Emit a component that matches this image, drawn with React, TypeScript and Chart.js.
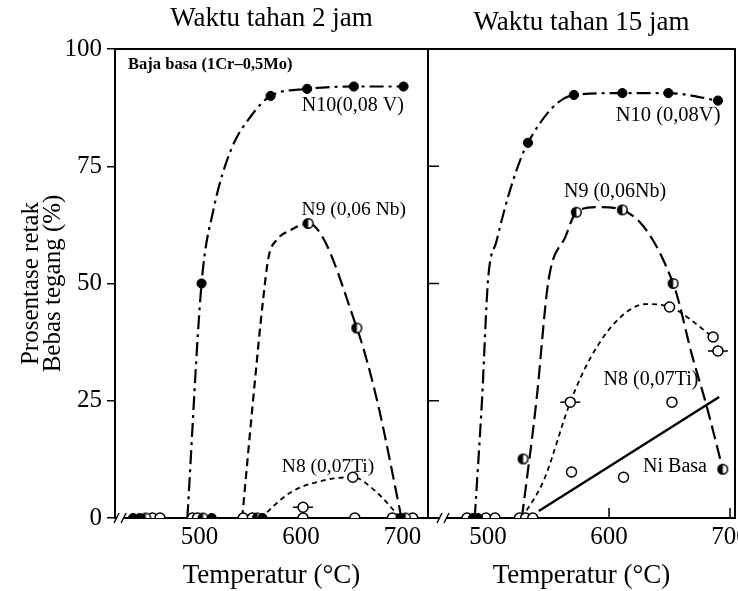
import React, { useEffect, useRef } from 'react';
import { Chart, registerables } from 'chart.js';
Chart.register(...registerables);

const FONT = "'Liberation Serif', 'Times New Roman', serif";
const INK = '#000';

// ---------- axes ----------
const Y_TICKS = [0, 25, 50, 75, 100];
const X_TICKS = [500, 600, 700];
const P1_X_RANGE = [416.7, 725.1];
const P2_X_RANGE = [450.4, 704.1];
const P1_TITLE = 'Waktu tahan 2 jam';
const P2_TITLE = 'Waktu tahan 15 jam';
const X_TITLE = 'Temperatur (°C)';
const Y_TITLE = ['Prosentase retak', 'Bebas tegang (%)'];
const P1_BREAK_T = [421.7];
const P2_BREAK_T = [462.8];

// ---------- panel 1 (2 jam) curves ----------
const P1_N10_T = [488, 502, 514, 531, 550, 570, 606, 652, 701];
const P1_N10_V = [0, 50, 66, 78.5, 85.5, 90, 91.5, 92, 92];
const P1_N9_T = [542, 552.7, 562.6, 568, 576, 590, 607, 655, 675, 699];
const P1_N9_V = [0, 25, 46.5, 55.6, 59.3, 61.4, 62.8, 40.5, 25, 0];
const P1_N8_T = [560, 590, 622, 651, 673, 698];
const P1_N8_V = [0, 5.5, 8, 8.7, 5.8, 0];

// ---------- panel 1 markers ----------
const P1_FILLED_T = [502, 570, 606, 652, 701, 434.5, 441, 512, 562, 698];
const P1_FILLED_V = [50, 90, 91.5, 92, 92, 0, 0, 0, 0, 0];
const P1_HALF_T = [607, 655, 447, 503.5, 557, 703];
const P1_HALF_V = [62.8, 40.5, 0, 0, 0, 0];
const P1_OPEN_T = [651, 602, 453.5, 461, 493, 498, 543, 552, 602, 653, 690, 710];
const P1_OPEN_V = [8.7, 2.3, 0, 0, 0, 0, 0, 0, 0, 0, 0, 0];
const P1_CROSS_T = [602];
const P1_CROSS_V = [2.3];

// ---------- panel 2 (15 jam) curves ----------
const P2_N10_T = [489, 495, 500, 507, 520, 533, 571, 611, 649, 690];
const P2_N10_V = [0, 25, 50.7, 59, 71.4, 80, 90.2, 90.6, 90.6, 89];
const P2_N9_T = [528, 540, 550, 564, 573, 590, 611, 653, 669, 680, 694];
const P2_N9_V = [0, 25, 50.7, 60, 65.2, 66.3, 65.7, 50, 34.3, 24.5, 10.4];
const P2_N8_T = [528, 546, 568, 585, 607, 630, 650, 686];
const P2_N8_V = [0, 8, 24.7, 34.3, 42.2, 45.6, 45, 38.6];
const P2_NI_T = [542, 691];
const P2_NI_V = [1.5, 25.8];

// ---------- panel 2 markers ----------
const P2_FILLED_T = [533, 571, 611, 649, 690, 487.6, 491.7];
const P2_FILLED_V = [80, 90.2, 90.6, 90.6, 89, 0, 0];
const P2_HALF_T = [529, 573, 611, 653, 694];
const P2_HALF_V = [12.6, 65.2, 65.7, 50, 10.4];
const P2_OPEN_T = [568, 650, 686, 690, 569, 652, 612, 482.6, 498.3, 505.8, 526, 531, 537];
const P2_OPEN_V = [24.7, 45, 38.6, 35.6, 9.8, 24.7, 8.7, 0, 0, 0, 0, 0, 0];
const P2_CROSS_T = [568, 690];
const P2_CROSS_V = [24.7, 35.6];

// ---------- annotations ----------
const P1_LABEL_TEXT = ['Baja basa (1Cr–0,5Mo)', 'N10(0,08 V)', 'N9 (0,06 Nb)', 'N8 (0,07Ti)'];
const P1_LABEL_T = [429.6, 651, 652, 626.6];
const P1_LABEL_V = [96.6, 88, 65.7, 10.9];
const P2_LABEL_TEXT = ['N10 (0,08V)', 'N9 (0,06Nb)', 'N8 (0,07Ti)', 'Ni Basa'];
const P2_LABEL_T = [648.8, 605, 634.7, 654.5];
const P2_LABEL_V = [85.9, 69.5, 29.4, 10.9];

function pts(t: number[], v: number[]) {
  return t.map((x, i) => ({ x, y: v[i] }));
}

function makeHalf(): HTMLCanvasElement {
  const c = document.createElement('canvas');
  c.width = 13;
  c.height = 13;
  const g = c.getContext('2d')!;
  g.beginPath();
  g.arc(6.5, 6.5, 4.8, 0, Math.PI * 2);
  g.fillStyle = '#fff';
  g.fill();
  g.beginPath();
  g.moveTo(6.5, 6.5);
  g.arc(6.5, 6.5, 4.8, Math.PI / 2, Math.PI * 1.5);
  g.closePath();
  g.fillStyle = INK;
  g.fill();
  g.beginPath();
  g.arc(6.5, 6.5, 4.8, 0, Math.PI * 2);
  g.lineWidth = 1.5;
  g.strokeStyle = INK;
  g.stroke();
  return c;
}

const framePlugin = {
  id: 'frame',
  beforeDatasetsDraw(chart: any) {
    const { ctx, chartArea } = chart;
    const { left, top, right, bottom } = chartArea;
    ctx.save();
    ctx.strokeStyle = INK;
    ctx.lineWidth = 2;
    ctx.strokeRect(left, top, right - left, bottom - top);
    const opts = chart.options.plugins.frame || {};
    const xs = chart.scales.x;
    const ys = chart.scales.y;
    (opts.breaks || []).forEach((t: number) => {
      const px = xs.getPixelForValue(t);
      const py = ys.getPixelForValue(0);
      ctx.fillStyle = '#fff';
      ctx.fillRect(px - 3, py - 2, 6, 4);
      ctx.lineWidth = 1.4;
      ctx.beginPath();
      ctx.moveTo(px - 6, py + 5);
      ctx.lineTo(px - 1, py - 5);
      ctx.moveTo(px + 1, py + 5);
      ctx.lineTo(px + 6, py - 5);
      ctx.stroke();
    });
    if (opts.innerTicks) {
      ctx.lineWidth = 1.5;
      ctx.beginPath();
      opts.innerTicks.x.forEach((t: number) => {
        const px = xs.getPixelForValue(t);
        ctx.moveTo(px, bottom);
        ctx.lineTo(px, bottom - 10);
      });
      opts.innerTicks.y.forEach((v: number) => {
        const py = ys.getPixelForValue(v);
        ctx.moveTo(left, py);
        ctx.lineTo(left + 11, py);
      });
      ctx.stroke();
    }
    ctx.restore();
  },
};

const labelPlugin = {
  id: 'labels',
  afterDatasetsDraw(chart: any) {
    const opts = chart.options.plugins.labels;
    if (!opts) return;
    const { ctx } = chart;
    const xs = chart.scales.x;
    const ys = chart.scales.y;
    ctx.save();
    ctx.fillStyle = INK;
    ctx.textBaseline = 'middle';
    opts.text.forEach((s: string, i: number) => {
      ctx.font = `${opts.weights[i]} ${opts.sizes[i]}px ${FONT}`;
      ctx.textAlign = opts.align[i];
      ctx.fillText(s, xs.getPixelForValue(opts.t[i]), ys.getPixelForValue(opts.v[i]));
    });
    ctx.restore();
  },
};

function markerSets(half: HTMLCanvasElement, filled: any[], halfPts: any[], open: any[], cross: any[]) {
  return [
    { data: filled, showLine: false, pointStyle: 'circle', pointRadius: 4.6, pointBackgroundColor: INK, pointBorderColor: INK, pointBorderWidth: 1 },
    { data: halfPts, showLine: false, pointStyle: half, pointRadius: 6 },
    { data: open, showLine: false, pointStyle: 'circle', pointRadius: 5, pointBackgroundColor: '#fff', pointBorderColor: INK, pointBorderWidth: 1.5 },
    { data: cross, showLine: false, pointStyle: 'line', pointRadius: 10, pointBorderColor: INK, pointBorderWidth: 1.5 },
  ];
}

function curve(data: any[], dash: number[], width: number, extra: any = {}) {
  return {
    data,
    showLine: true,
    pointRadius: 0,
    borderColor: INK,
    borderWidth: width,
    borderDash: dash,
    cubicInterpolationMode: 'monotone',
    ...extra,
  };
}

function xScales(range: number[], title: string, titlePadTop: number) {
  const tickFont = { family: FONT, size: 25, lineHeight: 1 };
  return {
    x: {
      type: 'linear',
      position: 'bottom',
      min: range[0],
      max: range[1],
      afterBuildTicks: (s: any) => {
        s.ticks = X_TICKS.map((value) => ({ value }));
      },
      afterFit: (s: any) => {
        s.height = 73;
        s.paddingLeft = 0;
        s.paddingRight = 0;
      },
      grid: { display: false, drawTicks: false },
      border: { display: false },
      ticks: { font: tickFont, color: INK, padding: 7, maxRotation: 0, autoSkip: false },
      title: {
        display: true,
        text: X_TITLE,
        color: INK,
        font: { family: FONT, size: 27, lineHeight: 1 },
        padding: { top: 0, bottom: 2 },
      },
    },
    x2: {
      type: 'linear',
      position: 'top',
      min: range[0],
      max: range[1],
      afterFit: (s: any) => {
        s.height = 49;
        s.paddingLeft = 0;
        s.paddingRight = 0;
      },
      grid: { display: false, drawTicks: false },
      border: { display: false },
      ticks: { display: false },
      title: {
        display: true,
        text: title,
        color: INK,
        font: { family: FONT, size: 27, lineHeight: 1 },
        padding: { top: titlePadTop, bottom: 0 },
      },
    },
  };
}

function config1(half: HTMLCanvasElement): any {
  return {
    type: 'scatter',
    data: {
      datasets: [
        ...markerSets(
          half,
          pts(P1_FILLED_T, P1_FILLED_V),
          pts(P1_HALF_T, P1_HALF_V),
          pts(P1_OPEN_T, P1_OPEN_V),
          pts(P1_CROSS_T, P1_CROSS_V)
        ),
        curve(pts(P1_N10_T, P1_N10_V), [14, 5, 3, 5], 2.2),
        curve(pts(P1_N9_T, P1_N9_V), [14, 6], 2.2, {
          segment: { borderDash: (c: any) => (c.p0.parsed.x < 600 ? [8, 5] : [14, 6]) },
        }),
        curve(pts(P1_N8_T, P1_N8_V), [5, 4], 1.8),
      ],
    },
    options: {
      animation: false,
      responsive: false,
      events: [],
      layout: { autoPadding: false, padding: { left: 0, right: 2, top: 0, bottom: 0 } },
      plugins: {
        legend: { display: false },
        tooltip: { enabled: false },
        frame: { breaks: P1_BREAK_T },
        labels: {
          text: P1_LABEL_TEXT,
          t: P1_LABEL_T,
          v: P1_LABEL_V,
          sizes: [16.5, 20, 19.5, 19.5],
          weights: ['bold', 'normal', 'normal', 'normal'],
          align: ['left', 'center', 'center', 'center'],
        },
      },
      scales: {
        ...xScales(P1_X_RANGE, P1_TITLE, 5),
        y: {
          type: 'linear',
          min: 0,
          max: 100,
          afterBuildTicks: (s: any) => {
            s.ticks = Y_TICKS.map((value) => ({ value }));
          },
          afterFit: (s: any) => {
            s.width = 115;
            s.paddingTop = 0;
            s.paddingBottom = 0;
          },
          grid: { drawOnChartArea: false, drawTicks: true, tickLength: 8, color: INK, lineWidth: 1.5 },
          border: { display: false },
          ticks: { font: { family: FONT, size: 25, lineHeight: 1 }, color: INK, padding: 5 },
          title: {
            display: true,
            text: Y_TITLE,
            color: INK,
            font: { family: FONT, size: 25, lineHeight: 0.9 },
            padding: { top: 20, bottom: 0 },
          },
        },
      },
    },
    plugins: [framePlugin, labelPlugin],
  };
}

function config2(half: HTMLCanvasElement): any {
  return {
    type: 'scatter',
    data: {
      datasets: [
        ...markerSets(
          half,
          pts(P2_FILLED_T, P2_FILLED_V),
          pts(P2_HALF_T, P2_HALF_V),
          pts(P2_OPEN_T, P2_OPEN_V),
          pts(P2_CROSS_T, P2_CROSS_V)
        ),
        curve(pts(P2_N10_T, P2_N10_V), [14, 5, 3, 5], 2.2),
        curve(pts(P2_N9_T, P2_N9_V), [14, 6], 2.2),
        curve(pts(P2_N8_T, P2_N8_V), [5, 4], 1.8),
        curve(pts(P2_NI_T, P2_NI_V), [], 2.4, { cubicInterpolationMode: 'default', tension: 0 }),
      ],
    },
    options: {
      animation: false,
      responsive: false,
      events: [],
      layout: { autoPadding: false, padding: { left: 8, right: 3, top: 0, bottom: 0 } },
      plugins: {
        legend: { display: false },
        tooltip: { enabled: false },
        frame: { breaks: P2_BREAK_T, innerTicks: { x: [600, 700], y: [25, 50, 75] } },
        labels: {
          text: P2_LABEL_TEXT,
          t: P2_LABEL_T,
          v: P2_LABEL_V,
          sizes: [20.5, 20, 20, 20],
          weights: ['normal', 'normal', 'normal', 'normal'],
          align: ['center', 'center', 'center', 'center'],
        },
      },
      scales: {
        ...xScales(P2_X_RANGE, P2_TITLE, 9),
        y: { type: 'linear', min: 0, max: 100, display: false },
      },
    },
    plugins: [framePlugin, labelPlugin],
  };
}

export default function App() {
  const ref1 = useRef<HTMLCanvasElement>(null);
  const ref2 = useRef<HTMLCanvasElement>(null);
  useEffect(() => {
    document.body.style.margin = '0';
    const half = makeHalf();
    const c1 = new Chart(ref1.current!, config1(half));
    const c2 = new Chart(ref2.current!, config2(half));
    return () => {
      c1.destroy();
      c2.destroy();
    };
  }, []);
  return (
    <div style={{ position: 'relative', width: 738, height: 591, background: '#fff', overflow: 'hidden' }}>
      <canvas ref={ref1} width={430} height={591} style={{ position: 'absolute', left: 0, top: 0 }} />
      <canvas ref={ref2} width={318} height={591} style={{ position: 'absolute', left: 420, top: 0 }} />
    </div>
  );
}
